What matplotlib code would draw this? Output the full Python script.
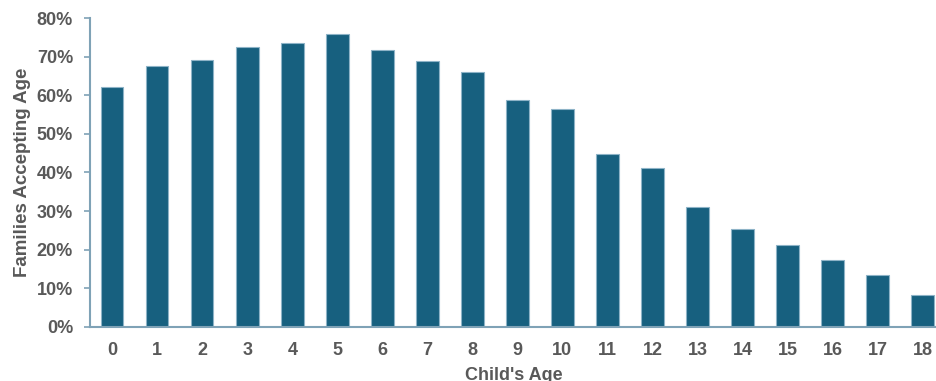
import matplotlib
matplotlib.use("Agg")
import matplotlib.pyplot as plt
from matplotlib.ticker import PercentFormatter

# data
ages = list(range(19))
accepting = [62.1, 67.5, 69.3, 72.6, 73.7, 75.8, 71.7, 68.9, 66.1, 58.8,
             56.6, 44.9, 41.1, 31.0, 25.4, 21.3, 17.3, 13.3, 8.3]

bar_color = "#17607F"
edge_color = "#8DB3C7"
axis_color = "#7FA2B6"
text_color = "#595959"

plt.rcParams['font.family'] = ['Liberation Sans', 'DejaVu Sans']
plt.rcParams['font.weight'] = 'bold'

fig = plt.figure(figsize=(9.37, 3.81), dpi=100)
ax = fig.add_axes([0.0957, 0.1425, 0.9043, 0.8095])

ax.bar(ages, accepting, width=0.5, color=bar_color, edgecolor=edge_color, linewidth=0.8)

ax.set_xlim(-0.5, 18.32)
ax.set_ylim(0, 80)
ax.set_yticks(range(0, 81, 10))
ax.yaxis.set_major_formatter(PercentFormatter(decimals=0))
ax.set_xticks(ages)

for side in ['top', 'right']:
    ax.spines[side].set_visible(False)
for side in ['left', 'bottom']:
    ax.spines[side].set_color(axis_color)
    ax.spines[side].set_linewidth(1.5)

ax.tick_params(axis='y', colors=axis_color, length=4, width=1.2, pad=8,
               labelcolor=text_color, labelsize=13)
ax.tick_params(axis='x', length=0, pad=11, labelcolor=text_color, labelsize=13)

ax.set_ylabel("Families Accepting Age", color=text_color, fontsize=13.5,
              fontweight='bold', labelpad=4)
ax.set_xlabel("Child's Age", color=text_color, fontsize=13,
              fontweight='bold', labelpad=6)

fig.savefig("out.png", dpi=100)
